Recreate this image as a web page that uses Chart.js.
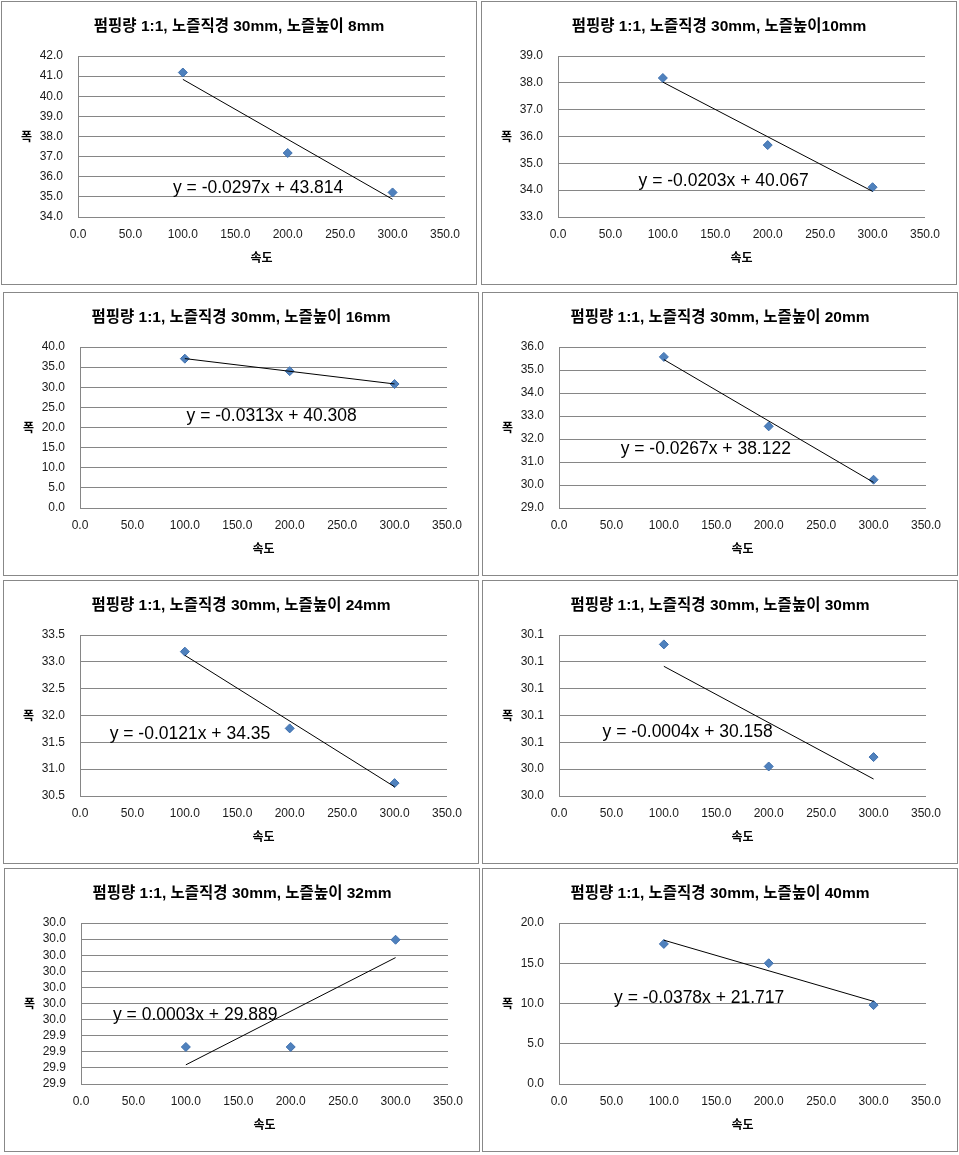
<!DOCTYPE html>
<html>
<head>
<meta charset="utf-8">
<script src="https://cdn.jsdelivr.net/npm/chart.js@4.4.1/dist/chart.umd.min.js"></script>
<style>
  body { margin: 0; background: #fff; width: 959px; height: 1155px; position: relative; overflow: hidden; }
  .panel { position: absolute; width: 474px; height: 282px; border: 1px solid #888; background: #fff; }
  .panel canvas { display: block; }
</style>
</head>
<body>
<script>
// speed (x) is the same for every panel
const speeds = [100, 200, 300];

// nozzle heights, one panel each
const heights = ['8mm', '10mm', '16mm', '20mm', '24mm', '30mm', '32mm', '40mm'];
const titles = [
    '펌핑량 1:1, 노즐직경 30mm, 노즐높이 8mm',
    '펌핑량 1:1, 노즐직경 30mm, 노즐높이10mm',
    '펌핑량 1:1, 노즐직경 30mm, 노즐높이 16mm',
    '펌핑량 1:1, 노즐직경 30mm, 노즐높이 20mm',
    '펌핑량 1:1, 노즐직경 30mm, 노즐높이 24mm',
    '펌핑량 1:1, 노즐직경 30mm, 노즐높이 30mm',
    '펌핑량 1:1, 노즐직경 30mm, 노즐높이 32mm',
    '펌핑량 1:1, 노즐직경 30mm, 노즐높이 40mm'
];

// width (폭) values
const width8 = [41.18, 37.18, 35.22];
const width10 = [38.18, 35.68, 34.11];
const width16 = [37.1, 34.0, 30.8];
const width20 = [35.57, 32.55, 30.23];
const width24 = [33.19, 31.76, 30.74];
const width30 = [30.133, 30.042, 30.049];
const width32 = [29.933, 29.933, 29.9996];
const width40 = [17.4, 15.0, 9.8];
const widths = [width8, width10, width16, width20, width24, width30, width32, width40];

// trendline labels as printed
const equations = [
    'y = -0.0297x + 43.814',
    'y = -0.0203x + 40.067',
    'y = -0.0313x + 40.308',
    'y = -0.0267x + 38.122',
    'y = -0.0121x + 34.35',
    'y = -0.0004x + 30.158',
    'y = 0.0003x + 29.889',
    'y = -0.0378x + 21.717'
];

// y axis ranges
const yMin = [34, 33, 0, 29, 30.5, 30.02, 29.91, 0];
const yMax = [42, 39, 40, 36, 33.5, 30.14, 30.01, 20];
const yStep = [1, 1, 5, 1, 0.5, 0.02, 0.01, 5];

// x axis ticks
const xMin = 0;
const xMax = 350;
const xStep = 50;

// layout: panel corners on the page, equation anchors in data units
const panelPos = [[1, 1], [481, 1], [3, 292], [482, 292], [3, 580], [482, 580], [4, 868], [482, 868]];
const eqAnchor = [[90.6, 35.18], [76.8, 34.17], [101.6, 21.53], [58.8, 31.35],
                  [28.3, 31.57], [41.5, 30.0637], [30.5, 29.95], [52.5, 10.02]];

const GRID = '#868686';
const TEXT = '#1a1a1a';

// least squares line, like Excel's linear trendline
function fitLine(xs, ys) {
    const n = xs.length;
    const mx = xs.reduce((a, b) => a + b, 0) / n;
    const my = ys.reduce((a, b) => a + b, 0) / n;
    let sxy = 0, sxx = 0;
    for (let i = 0; i < n; i++) {
        sxy += (xs[i] - mx) * (ys[i] - my);
        sxx += (xs[i] - mx) * (xs[i] - mx);
    }
    const slope = sxy / sxx;
    return { slope, intercept: my - slope * mx };
}

const extraText = {
    id: 'extraText',
    afterDatasetsDraw(chart, args, opts) {
        const { ctx, chartArea, scales } = chart;
        ctx.save();
        ctx.fillStyle = '#000';
        // upright y-axis title
        ctx.font = 'bold 12px "Noto Sans CJK KR"';
        ctx.textAlign = 'center';
        ctx.textBaseline = 'middle';
        ctx.fillText('폭', 24.5, (chartArea.top + chartArea.bottom) / 2);
        // trendline equation
        ctx.font = '17.5px "Liberation Sans"';
        ctx.textAlign = 'left';
        ctx.textBaseline = 'alphabetic';
        ctx.fillText(opts.text, scales.x.getPixelForValue(opts.at[0]), scales.y.getPixelForValue(opts.at[1]));
        ctx.restore();
    }
};

function oneDecimal(v) {
    return (Math.round(v * 10 + 1e-6) / 10).toFixed(1);
}

heights.forEach((h, i) => {
    const div = document.createElement('div');
    div.className = 'panel';
    div.style.left = panelPos[i][0] + 'px';
    div.style.top = panelPos[i][1] + 'px';
    const canvas = document.createElement('canvas');
    canvas.width = 474;
    canvas.height = 282;
    div.appendChild(canvas);
    document.body.appendChild(div);

    const ys = widths[i];
    const fit = fitLine(speeds, ys);
    const xFirst = speeds[0];
    const xLast = speeds[speeds.length - 1];

    new Chart(canvas, {
        type: 'scatter',
        data: {
            datasets: [
                {
                    label: '폭 ' + h,
                    data: speeds.map((x, k) => ({ x, y: ys[k] })),
                    pointStyle: 'rectRot',
                    pointRadius: 4.5,
                    backgroundColor: '#4f81bd',
                    borderColor: '#3f70ae',
                    borderWidth: 1,
                    order: 2
                },
                {
                    label: 'trend',
                    data: [
                        { x: xFirst, y: fit.slope * xFirst + fit.intercept },
                        { x: xLast, y: fit.slope * xLast + fit.intercept }
                    ],
                    showLine: true,
                    pointRadius: 0,
                    borderColor: '#000',
                    borderWidth: 1,
                    order: 1
                }
            ]
        },
        options: {
            responsive: false,
            animation: false,
            devicePixelRatio: 1,
            layout: { padding: 0 },
            plugins: {
                legend: { display: false },
                tooltip: { enabled: false },
                title: {
                    display: true,
                    text: titles[i],
                    color: '#000',
                    font: { family: '"Liberation Sans", "Noto Sans CJK KR"', size: 15.5, weight: 'bold', lineHeight: 1.2 },
                    padding: { top: 15.4, bottom: 20 }
                },
                extraText: { text: equations[i], at: eqAnchor[i] }
            },
            scales: {
                x: {
                    type: 'linear',
                    min: xMin,
                    max: xMax,
                    grid: { display: false, drawTicks: false },
                    border: { display: false },
                    ticks: {
                        stepSize: xStep,
                        autoSkip: false,
                        maxRotation: 0,
                        padding: 10,
                        color: TEXT,
                        font: { family: '"Liberation Sans"', size: 12 },
                        callback: v => Number(v).toFixed(1)
                    },
                    title: {
                        display: true,
                        text: '속도',
                        color: '#000',
                        font: { family: '"Noto Sans CJK KR"', size: 12, weight: 'bold' },
                        padding: { top: 0, bottom: 19.8 }
                    },
                    afterFit(scale) { scale.height = 67; }
                },
                y: {
                    type: 'linear',
                    min: yMin[i],
                    max: yMax[i],
                    grid: { color: GRID, lineWidth: 1, drawTicks: false },
                    border: { display: true, color: GRID, width: 1 },
                    ticks: {
                        stepSize: yStep[i],
                        autoSkip: false,
                        padding: 15,
                        color: TEXT,
                        font: { family: '"Liberation Sans"', size: 12 },
                        callback: v => oneDecimal(v)
                    },
                    afterFit(scale) { scale.width = 76; }
                },
                // empty right-hand axis that only reserves the blank margin
                yRight: {
                    type: 'linear',
                    position: 'right',
                    min: yMin[i],
                    max: yMax[i],
                    grid: { display: false, drawTicks: false },
                    border: { display: false },
                    ticks: { display: false },
                    afterFit(scale) { scale.width = 31; }
                }
            }
        },
        plugins: [extraText]
    });
});
</script>
</body>
</html>
